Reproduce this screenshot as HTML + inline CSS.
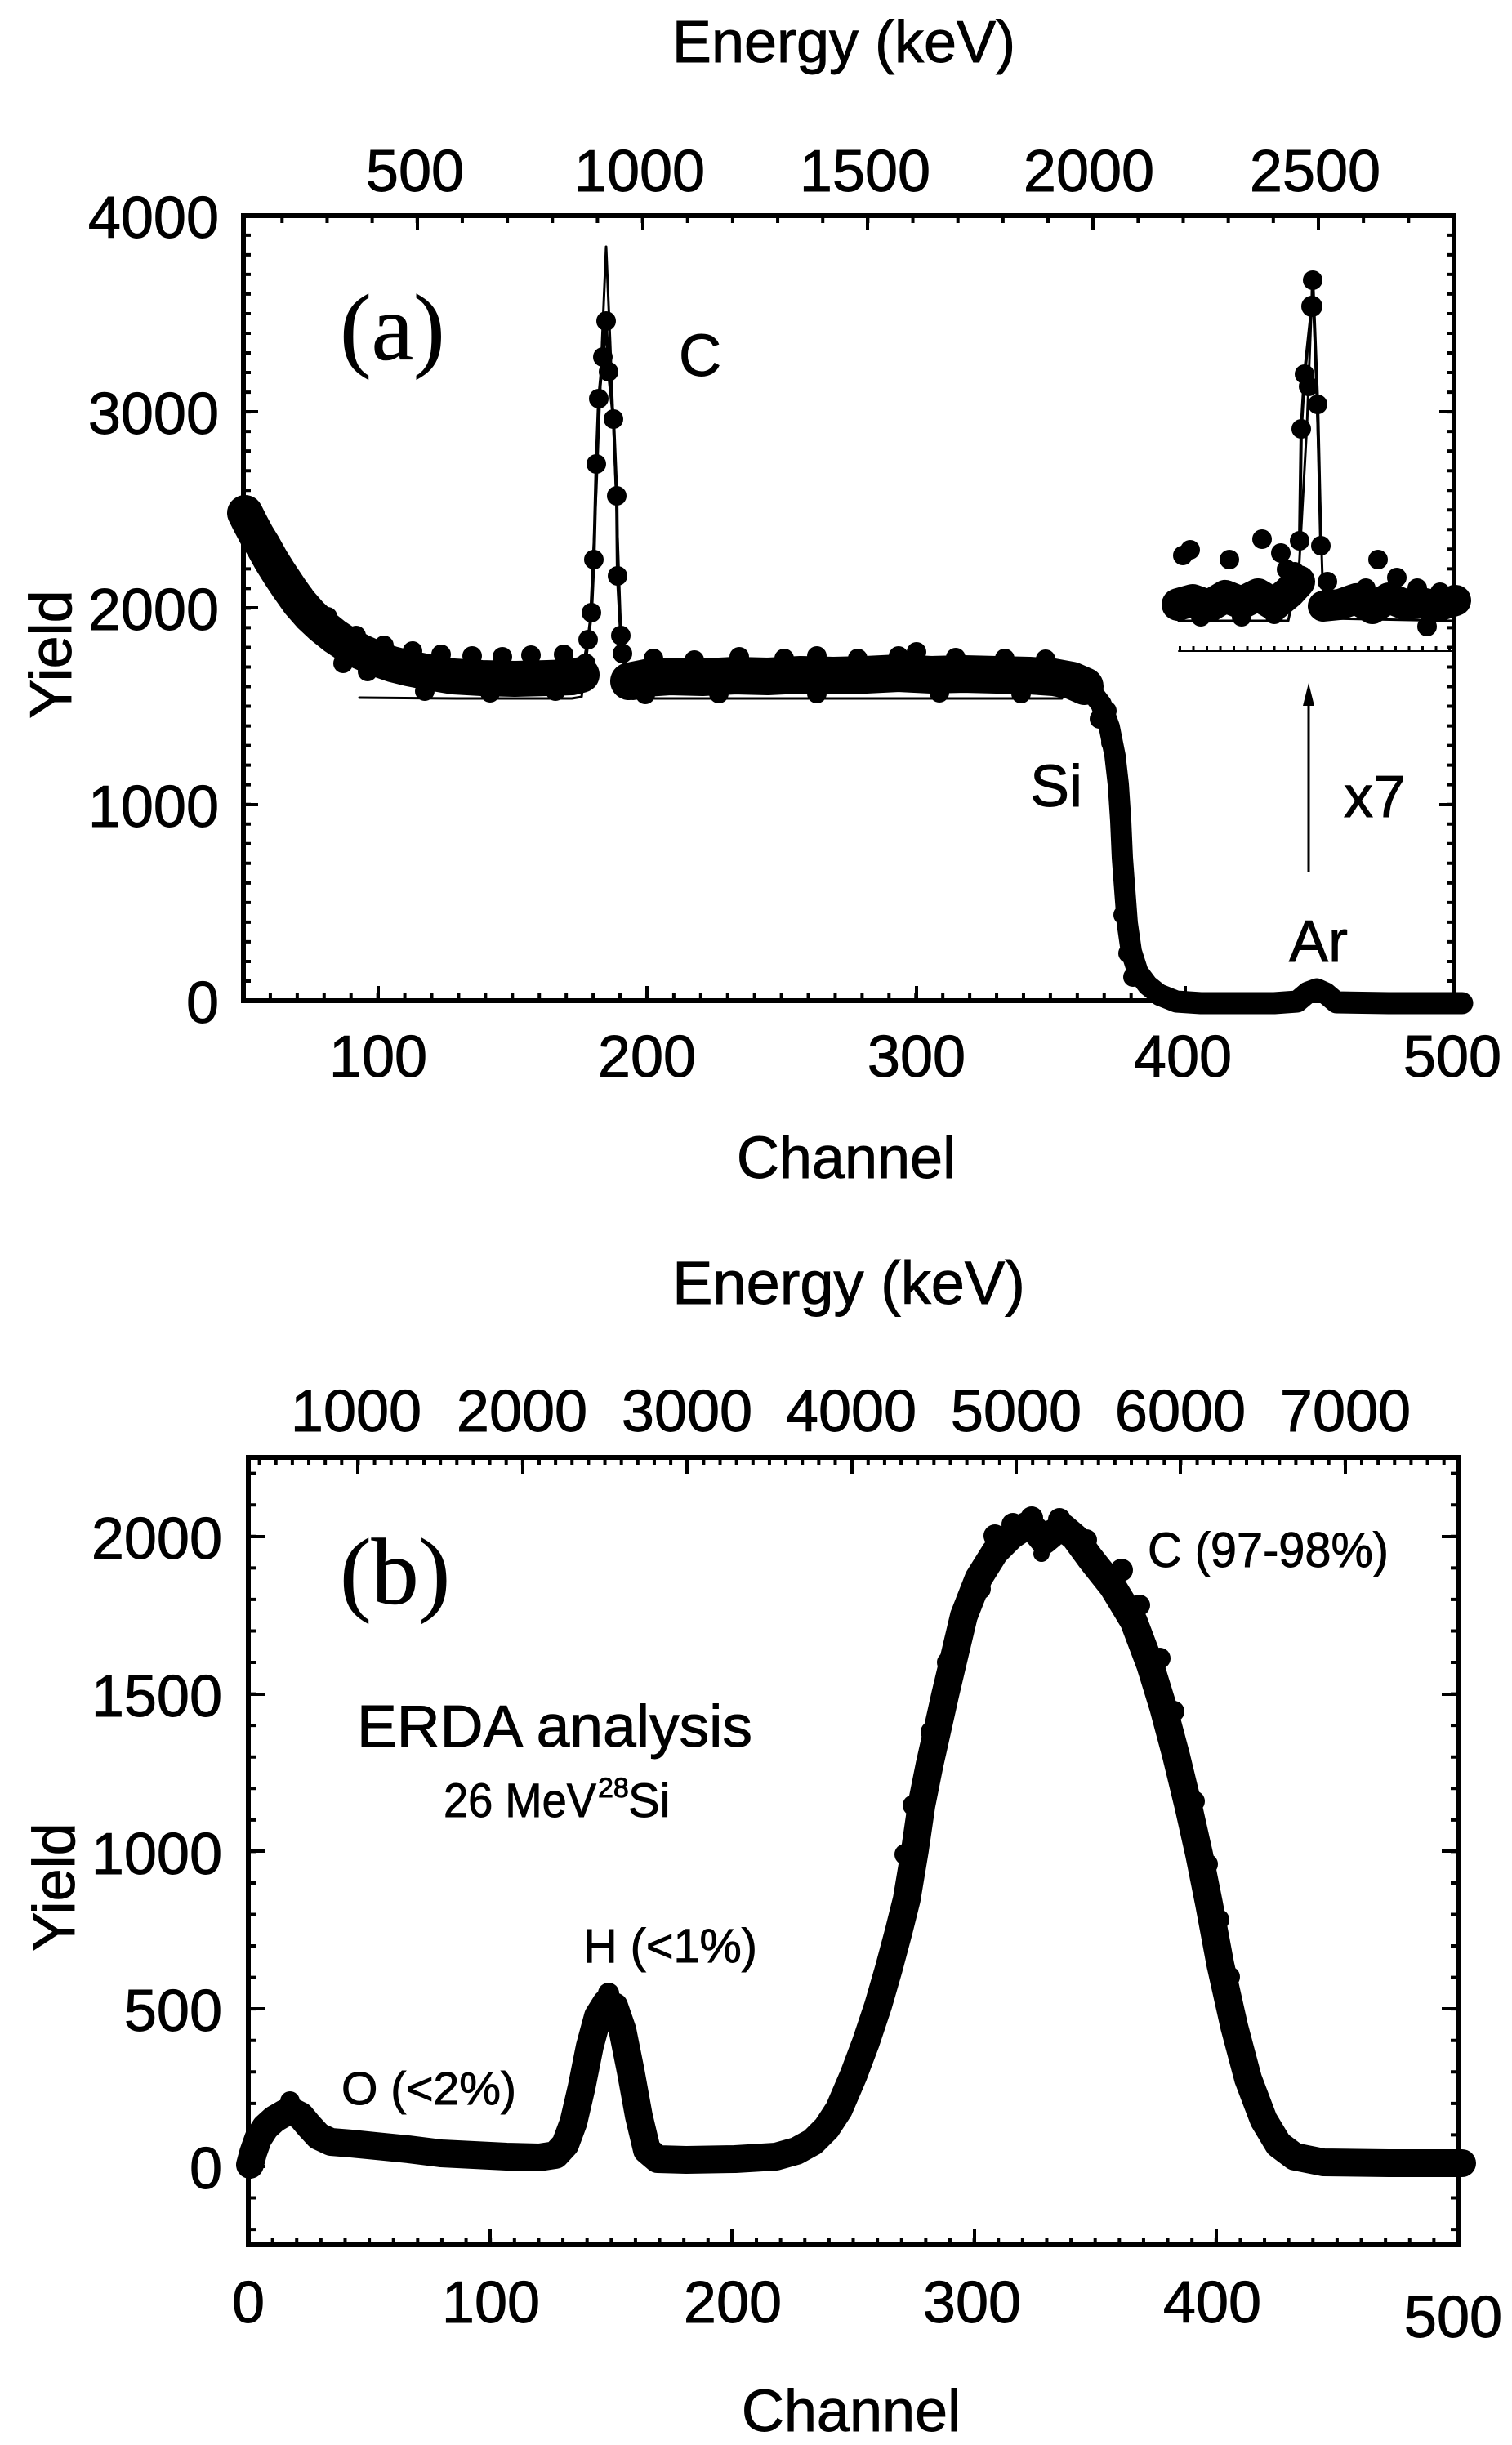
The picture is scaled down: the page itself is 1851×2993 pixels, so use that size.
<!DOCTYPE html>
<html>
<head>
<meta charset="utf-8">
<style>
html,body{margin:0;padding:0;background:#fff;}
svg{display:block;}
text{font-family:"Liberation Sans",Arial,sans-serif;fill:#000;stroke:#000;stroke-width:0.9px;}
.serif{font-family:"Liberation Serif","Times New Roman",serif;stroke-width:0.6px;}
</style>
</head>
<body>
<svg width="1851" height="2993" viewBox="0 0 1851 2993" xmlns="http://www.w3.org/2000/svg">
<rect width="1851" height="2993" fill="#fff"/>

<!-- ================= PANEL (a) ================= -->
<g fill="none" stroke="#000">
  <rect x="298" y="264" width="1482" height="961" stroke-width="6"/>
  <line x1="302.5" y1="1227" x2="302.5" y2="262" stroke-width="9" stroke-dasharray="4 20.03"/>
  <line x1="1775.5" y1="1227" x2="1775.5" y2="262" stroke-width="9" stroke-dasharray="4 20.03"/>
  <line x1="296" y1="1220.5" x2="1782" y2="1220.5" stroke-width="9" stroke-dasharray="4 28.93"/>
  <line x1="343.3" y1="268.5" x2="1782" y2="268.5" stroke-width="9" stroke-dasharray="4 51.16"/>
  <path stroke-width="4" d="M298,985h18 M298,744h18 M298,504h18 M1780,985h-18 M1780,744h-18 M1780,504h-18 M463,1225v-18 M792,1225v-18 M1122,1225v-18 M1451,1225v-18 M511,264v18 M787,264v18 M1062,264v18 M1338,264v18 M1614,264v18"/>
</g>

<g fill="none" stroke="#000" stroke-linecap="round" stroke-linejoin="round">
  <polyline stroke-width="3" points="440,854 560,855 700,855 712,853 722,770 730,600 737,420 742,302 747,420 754,600 760,770 768,855 900,855 1100,855 1300,855"/>
  <polyline stroke-width="44" points="300,628 306,640 314,655 322,668 332,686 342,702 354,720 366,737 380,753 395,767 410,779 425,789 442,798 460,806 480,813 500,818 525,823 555,828 590,830 630,831 670,830 700,829 712,826"/>
  <polyline stroke-width="46" points="770,834 790,830 820,828 860,829 900,827 940,828 980,826 1020,827 1060,826 1100,824 1140,826 1180,825 1220,826 1260,827 1290,829 1312,833 1328,840"/>
  <polyline stroke-width="26" points="1320,836 1335,845 1348,862 1358,890 1365,925 1369,960 1372,1005 1374,1050 1377,1090 1380,1130 1385,1165 1393,1190 1405,1206 1420,1218 1440,1226"/>
  <polyline stroke-width="27" points="1420,1218 1440,1226 1470,1228 1560,1228 1588,1226 1601,1215 1612,1211 1623,1216 1636,1227 1700,1228 1790,1228"/>
  <polyline stroke-width="4" points="716,805 720,783 724,750 727,685 730,568 733,488 738,437 742,393 745,455 751,513 755,607 756,705 760,778 762,800 766,822"/>
  <polyline stroke-width="3" points="1443,760 1577,760 1590,700 1600,520 1607,337 1613,520 1620,740 1626,757 1778,760"/>
  <polyline stroke-width="4" points="1591,662 1593,525 1597,458 1606,375 1607,343 1613,495 1617,668"/>
  <polyline stroke-width="40" points="1442,740 1460,735 1480,742 1500,730 1520,738 1540,728 1560,740 1578,725 1590,712"/>
  <polyline stroke-width="38" points="1620,742 1640,740 1660,733 1680,745 1700,732 1720,740 1740,738 1760,742 1782,735"/>
  <line x1="1443" y1="797" x2="1778" y2="797" stroke-width="2"/>
  <line x1="1443" y1="794" x2="1778" y2="794" stroke-width="6" stroke-dasharray="3 13.5" stroke-linecap="butt"/>
  <line x1="1602" y1="1067" x2="1602" y2="858" stroke-width="3" stroke-linecap="butt"/>
</g>
<polygon points="1602,836 1595,864 1609,864" fill="#000"/>

<g fill="#000">
  <circle cx="350" cy="700" r="12"/><circle cx="372" cy="728" r="12"/><circle cx="401" cy="755" r="12"/>
  <circle cx="436" cy="778" r="12"/><circle cx="470" cy="790" r="12"/><circle cx="505" cy="797" r="12"/>
  <circle cx="540" cy="801" r="12"/><circle cx="578" cy="803" r="12"/><circle cx="615" cy="804" r="12"/>
  <circle cx="650" cy="802" r="12"/><circle cx="690" cy="801" r="12"/><circle cx="520" cy="846" r="12"/>
  <circle cx="600" cy="848" r="12"/><circle cx="680" cy="846" r="12"/><circle cx="420" cy="812" r="12"/>
  <circle cx="450" cy="822" r="12"/><circle cx="300" cy="622" r="13"/><circle cx="308" cy="660" r="12"/>
  <circle cx="800" cy="806" r="12"/><circle cx="850" cy="808" r="12"/><circle cx="905" cy="804" r="12"/>
  <circle cx="960" cy="806" r="12"/><circle cx="1000" cy="803" r="12"/><circle cx="1050" cy="806" r="12"/>
  <circle cx="1100" cy="803" r="12"/><circle cx="1122" cy="798" r="12"/><circle cx="1170" cy="805" r="12"/>
  <circle cx="1230" cy="806" r="12"/><circle cx="1280" cy="807" r="12"/><circle cx="790" cy="850" r="12"/>
  <circle cx="880" cy="849" r="12"/><circle cx="1000" cy="849" r="12"/><circle cx="1150" cy="848" r="12"/>
  <circle cx="1250" cy="849" r="12"/><circle cx="775" cy="845" r="12"/>
  <circle cx="1346" cy="880" r="12"/><circle cx="1355" cy="870" r="12"/><circle cx="1360" cy="909" r="12"/>
  <circle cx="1367" cy="943" r="12"/><circle cx="1370" cy="971" r="12"/><circle cx="1373" cy="1048" r="12"/>
  <circle cx="1375" cy="1120" r="12"/><circle cx="1381" cy="1167" r="12"/><circle cx="1387" cy="1196" r="12"/>
  <circle cx="717" cy="812" r="12"/><circle cx="720" cy="783" r="12"/><circle cx="724" cy="750" r="12"/>
  <circle cx="727" cy="685" r="12"/><circle cx="730" cy="568" r="12"/><circle cx="733" cy="488" r="12"/>
  <circle cx="738" cy="437" r="12"/><circle cx="742" cy="393" r="12"/><circle cx="745" cy="455" r="12"/>
  <circle cx="751" cy="513" r="12"/><circle cx="755" cy="607" r="12"/><circle cx="756" cy="705" r="12"/>
  <circle cx="760" cy="778" r="12"/><circle cx="762" cy="800" r="12"/><circle cx="767" cy="825" r="12"/>
  <circle cx="1591" cy="662" r="12"/><circle cx="1593" cy="525" r="12"/><circle cx="1597" cy="458" r="12"/>
  <circle cx="1602" cy="473" r="12"/><circle cx="1613" cy="495" r="12"/><circle cx="1606" cy="375" r="13"/>
  <circle cx="1607" cy="343" r="12"/><circle cx="1617" cy="668" r="12"/>
  <circle cx="1457" cy="673" r="12"/><circle cx="1448" cy="680" r="12"/><circle cx="1505" cy="685" r="12"/>
  <circle cx="1545" cy="660" r="12"/><circle cx="1568" cy="677" r="12"/><circle cx="1575" cy="697" r="12"/>
  <circle cx="1585" cy="700" r="12"/><circle cx="1470" cy="755" r="12"/><circle cx="1520" cy="755" r="12"/>
  <circle cx="1560" cy="752" r="12"/><circle cx="1687" cy="685" r="12"/><circle cx="1710" cy="707" r="12"/>
  <circle cx="1747" cy="767" r="12"/><circle cx="1625" cy="712" r="12"/><circle cx="1672" cy="720" r="12"/>
  <circle cx="1735" cy="720" r="12"/><circle cx="1763" cy="725" r="12"/><circle cx="1780" cy="728" r="12"/>
</g>

<text x="1033" y="76" font-size="72" text-anchor="middle">Energy (keV)</text>
<g font-size="72" text-anchor="middle">
  <text x="508" y="234">500</text>
  <text x="783" y="234">1000</text>
  <text x="1059" y="234">1500</text>
  <text x="1333" y="234">2000</text>
  <text x="1610" y="234">2500</text>
  <text x="463" y="1318">100</text>
  <text x="792" y="1318">200</text>
  <text x="1122" y="1318">300</text>
  <text x="1448" y="1318">400</text>
  <text x="1778" y="1318">500</text>
  <text x="1036" y="1442">Channel</text>
  <text transform="translate(87,801) rotate(-90)">Yield</text>
</g>
<g font-size="72" text-anchor="end">
  <text x="268" y="291">4000</text>
  <text x="268" y="531">3000</text>
  <text x="268" y="771">2000</text>
  <text x="268" y="1012">1000</text>
  <text x="268" y="1252">0</text>
</g>
<text class="serif" x="416" y="440" font-size="116">(a)</text>
<text x="857" y="460" font-size="72" text-anchor="middle">C</text>
<text x="1261" y="987" font-size="72">Si</text>
<text x="1645" y="1000" font-size="72">x7</text>
<text x="1614" y="1177" font-size="72" text-anchor="middle">Ar</text>

<!-- ================= PANEL (b) ================= -->
<g fill="none" stroke="#000">
  <rect x="304" y="1784" width="1481" height="964" stroke-width="6"/>
  <line x1="308.5" y1="2731.1" x2="308.5" y2="1780" stroke-width="9" stroke-dasharray="4 34.56"/>
  <line x1="1780.5" y1="2731.1" x2="1780.5" y2="1780" stroke-width="9" stroke-dasharray="4 34.56"/>
  <line x1="302" y1="2743.5" x2="1787" y2="2743.5" stroke-width="9" stroke-dasharray="4 25.62"/>
  <line x1="315.6" y1="1788.5" x2="1785" y2="1788.5" stroke-width="9" stroke-dasharray="4 16.14"/>
  <path stroke-width="4" d="M304,2652h20 M304,2459h20 M304,2266h20 M304,2074h20 M304,1881h20 M1785,2652h-20 M1785,2459h-20 M1785,2266h-20 M1785,2074h-20 M1785,1881h-20 M600,2748v-20 M896,2748v-20 M1193,2748v-20 M1489,2748v-20 M438,1784v20 M640,1784v20 M841,1784v20 M1043,1784v20 M1244,1784v20 M1445,1784v20 M1647,1784v20"/>
</g>

<g fill="none" stroke="#000" stroke-linecap="round" stroke-linejoin="round">
  <polyline stroke-width="34" points="306,2650 310,2635 316,2618 325,2604 336,2594 348,2587 358,2585 368,2590 378,2602 390,2615 405,2622 430,2624 460,2627 500,2631 540,2636 580,2638 620,2640 660,2641 680,2638 692,2625 702,2598 712,2555 722,2505 732,2468 742,2452 752,2456 762,2485 772,2535 782,2590 792,2632 805,2643 840,2644 900,2643 950,2640 975,2633 995,2622 1012,2605 1027,2582 1045,2540 1060,2500 1075,2455 1088,2410 1100,2365 1110,2325 1120,2265 1128,2210 1138,2160 1147,2120 1157,2075 1166,2037 1180,1978 1198,1932 1218,1900 1238,1880 1256,1868 1268,1874 1278,1886 1290,1876 1302,1870 1316,1882 1335,1908 1362,1942 1388,1985 1408,2038 1424,2090 1440,2150 1455,2212 1468,2270 1480,2330 1494,2405 1511,2481 1528,2545 1547,2595 1565,2625 1585,2640 1620,2647 1700,2648 1790,2648"/>
</g>
<g fill="#000">
  <circle cx="1218" cy="1880" r="14"/><circle cx="1240" cy="1866" r="14"/><circle cx="1263" cy="1858" r="14"/>
  <circle cx="1297" cy="1860" r="14"/><circle cx="1330" cy="1885" r="13"/><circle cx="1373" cy="1922" r="14"/>
  <circle cx="1395" cy="1965" r="13"/><circle cx="1420" cy="2030" r="13"/><circle cx="1437" cy="2095" r="13"/>
  <circle cx="1160" cy="2035" r="13"/><circle cx="1140" cy="2120" r="13"/><circle cx="1118" cy="2210" r="13"/>
  <circle cx="1108" cy="2270" r="13"/><circle cx="1185" cy="1960" r="13"/><circle cx="1200" cy="1945" r="13"/>
  <circle cx="1275" cy="1902" r="10"/><circle cx="1462" cy="2205" r="13"/><circle cx="1478" cy="2282" r="13"/>
  <circle cx="1492" cy="2350" r="13"/><circle cx="1505" cy="2420" r="13"/><circle cx="304" cy="2652" r="13"/>
  <circle cx="355" cy="2572" r="12"/><circle cx="745" cy="2440" r="13"/>
</g>

<text x="1039" y="1596" font-size="74" text-anchor="middle">Energy (keV)</text>
<g font-size="72" text-anchor="middle">
  <text x="436" y="1752">1000</text>
  <text x="639" y="1752">2000</text>
  <text x="841" y="1752">3000</text>
  <text x="1042" y="1752">4000</text>
  <text x="1244" y="1752">5000</text>
  <text x="1445" y="1752">6000</text>
  <text x="1647" y="1752">7000</text>
  <text x="304" y="2843">0</text>
  <text x="601" y="2843">100</text>
  <text x="897" y="2843">200</text>
  <text x="1190" y="2843">300</text>
  <text x="1484" y="2843">400</text>
  <text x="1779" y="2861">500</text>
  <text x="1042" y="2976">Channel</text>
  <text transform="translate(91,2310) rotate(-90)">Yield</text>
</g>
<g font-size="72" text-anchor="end">
  <text x="272" y="1908">2000</text>
  <text x="272" y="2101">1500</text>
  <text x="272" y="2294">1000</text>
  <text x="272" y="2486">500</text>
  <text x="272" y="2679">0</text>
</g>
<text class="serif" x="416" y="1963" font-size="116">(b)</text>
<text x="437" y="2138" font-size="72" textLength="484" lengthAdjust="spacingAndGlyphs">ERDA analysis</text>
<text x="543" y="2224" font-size="58" textLength="187" lengthAdjust="spacingAndGlyphs">26 MeV</text>
<text x="732" y="2200" font-size="34">28</text>
<text x="769" y="2224" font-size="58">Si</text>
<text x="714" y="2402" font-size="58" textLength="213" lengthAdjust="spacingAndGlyphs">H (&lt;1%)</text>
<text x="418" y="2576" font-size="57" textLength="214" lengthAdjust="spacingAndGlyphs">O (&lt;2%)</text>
<text x="1405" y="1918" font-size="60" textLength="295" lengthAdjust="spacingAndGlyphs">C (97-98%)</text>
</svg>
</body>
</html>
